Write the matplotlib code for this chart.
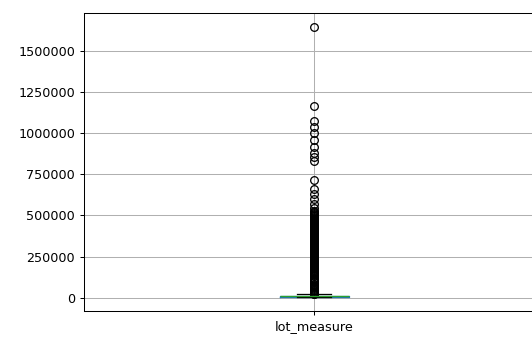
import matplotlib
matplotlib.use("Agg")
import matplotlib.pyplot as plt

# box statistics of lot_measure
column = "lot_measure"
whisker_low = 520
q1 = 5040
median = 7618
q3 = 10688
whisker_high = 19141

# outliers, sparse part at the top
outliers_sparse = [1651359, 1165000, 1075000, 1037000, 1000000, 963000, 918000,
                   880000, 855000, 835000, 716000, 662000, 632000, 602000,
                   572000, 543000]
# outliers, dense column (drawn as a solid black bar in the reference)
outliers_dense = [530000, 524000, 517000, 511000, 505000, 499000, 492000, 486000,
                  480000, 474000, 468000, 462000, 455000, 449000, 443000, 437000,
                  431000, 425000, 418000, 412000, 406000, 400000, 394000, 388000,
                  381000, 375000, 369000, 363000, 357000, 351000, 344000, 338000,
                  332000, 326000, 320000, 314000, 307000, 301000, 295000, 289000,
                  283000, 277000, 270000, 264000, 258000, 252000, 246000, 240000,
                  233000, 227000, 221000, 215000, 209000, 203000, 196000, 190000,
                  184000, 178000, 172000, 166000, 159000, 153000, 147000, 141000,
                  135000, 129000, 122000, 116000, 110000, 104000, 98000, 92000,
                  85000, 79000, 73000, 67000, 61000, 55000, 48000, 42000,
                  36000, 30000, 25000, 21000, 19300]

stats = [{
    "label": column,
    "whislo": whisker_low,
    "q1": q1,
    "med": median,
    "q3": q3,
    "whishi": whisker_high,
    "fliers": outliers_sparse + outliers_dense,
}]

dpi = 92
fig = plt.figure(figsize=(532 / dpi, 337 / dpi), dpi=dpi)
ax = fig.add_axes([84 / 532, 26 / 337, 460 / 532, 298 / 337])

ax.bxp(stats,
       boxprops=dict(color="C0"),
       whiskerprops=dict(color="C0"),
       medianprops=dict(color="C2"),
       capprops=dict(color="k"),
       flierprops=dict(marker="o", markerfacecolor="none", markeredgecolor="k"))

ax.grid(True)
ax.set_ylim(-82022, 1733901)
ax.set_xlim(0.5, 1.5)
ax.set_yticks([0, 250000, 500000, 750000, 1000000, 1250000, 1500000])
ax.ticklabel_format(axis="y", style="plain")

fig.savefig("out.png", dpi=dpi)
